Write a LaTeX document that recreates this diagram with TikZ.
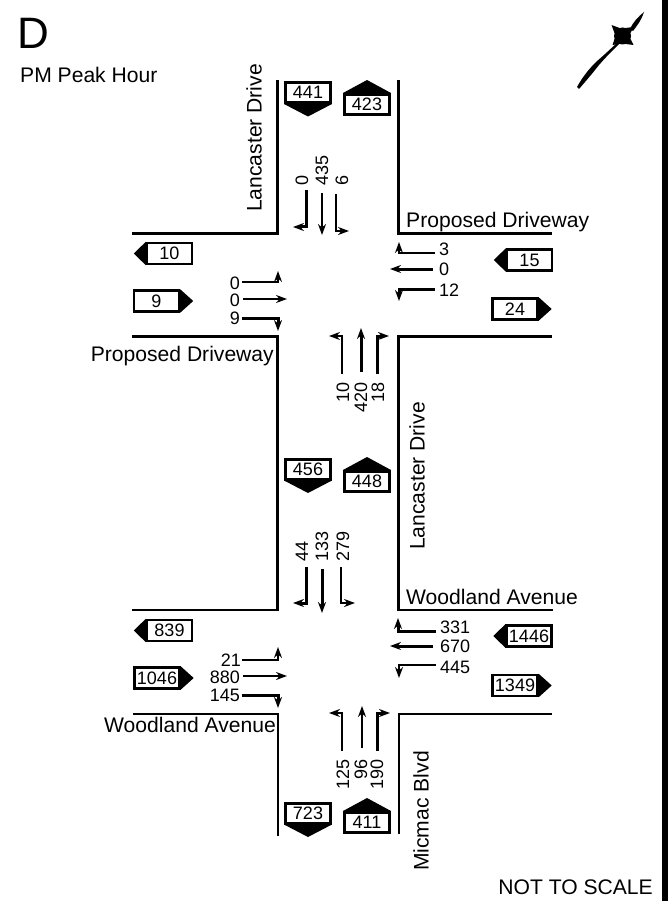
\documentclass[tikz,border=0pt]{standalone}
\usepackage{fontspec}
\setmainfont{Liberation Sans}
\usetikzlibrary{arrows.meta,calc}

\tikzset{
  >={Stealth[length=11pt,width=8pt]},
  road/.style={line width=2.6pt,line join=miter},
  movelight/.style={line width=1.8pt,->},
  moveheavy/.style={line width=3pt,->},
  vol/.style={inner sep=0pt,font=\fontsize{18}{20}\selectfont},
  volup/.style={vol,rotate=90},
  street/.style={inner sep=0pt,font=\fontsize{21.1}{24}\selectfont},
  tagbox/.style={draw,line width=3pt,fill=white,minimum width=45pt,minimum height=20pt,inner sep=0pt,font=\fontsize{18}{20}\selectfont},
  tagside/.style={tagbox,line width=2.4pt,minimum height=21pt}
}

\begin{document}
\begin{tikzpicture}[x=1pt,y=-1pt]
\useasboundingbox (0,0) rectangle (670,901);

% frame bar on the right
\fill (661.5,0) rectangle (668,901);

% headings
\node[inner sep=0pt,anchor=west,font=\fontsize{44}{48}\selectfont] (panel) at (17,33) {D};
\node[street,anchor=west] (peak) at (20,75) {PM Peak Hour};
\node[street,anchor=east] (scale) at (653,887) {NOT TO SCALE};

% north arrow
\coordinate (N) at (622.5,36);
\fill (577,87) .. controls (583,76) and (590,68) .. (596,62) .. controls (604,55) .. (618,42) -- (619,44) .. controls (607,56) .. (599,65) .. controls (592,74) and (585,82) .. (579,89) -- cycle;
\fill (630,29) .. controls (633,22) and (638,17) .. (644,12) .. controls (642,19) and (637,26) .. (633,31) -- cycle;
\fill (N) circle (8.5);
\fill (N) +(-11,-11) -- +(-3,-8) -- +(-8,-3) -- cycle;
\fill (N) +(11,-9) -- +(3,-8) -- +(8,-3) -- cycle;
\fill (N) +(11,9) -- +(3,8) -- +(8,3) -- cycle;
\fill (N) +(-10,9) -- +(-3,8) -- +(-8,3) -- cycle;

% kerbs
\draw[road] (277.7,80) -- (277.7,233.5) -- (132,233.5);
\draw[road] (398.7,80) -- (398.7,233.5) -- (552,233.5);
\draw[road] (132,336.7) -- (277.7,336.7) -- (277.7,610) -- (132,610);
\draw[road] (552,336.7) -- (398.7,336.7) -- (398.7,610) -- (553,610);
\draw[road] (133,714) -- (278,714) -- (278,836);
\draw[road] (552,714) -- (399,714) -- (399,834);

% street names
\node[street,rotate=90,anchor=west] (lancN) at (254,212) {Lancaster Drive};
\node[street,rotate=90,anchor=west] (lancS) at (417,550) {Lancaster Drive};
\node[street,anchor=west] (propE) at (406,222.5) {Proposed Driveway};
\node[street,anchor=east] (propW) at (274,356.5) {Proposed Driveway};
\node[street,anchor=west] (woodE) at (406,597) {Woodland Avenue};
\node[street,anchor=east] (woodW) at (276,725) {Woodland Avenue};
\node[street,rotate=90,anchor=west] (micmac) at (421,871) {Micmac Blvd};

% southbound tags
\foreach \tagval/\x/\y in {441/308/92.5,456/308/469,723/308/813} {
  \node[tagbox] (tag\tagval) at (\x,\y) {\tagval};
  \fill (tag\tagval.south west) -- (tag\tagval.south east) -- ($(tag\tagval.south)+(0,12.5)$) -- cycle;
}
% northbound tags
\foreach \tagval/\x/\y in {423/367/104.5,448/367/481.5,411/367/822.5} {
  \node[tagbox] (tag\tagval) at (\x,\y) {\tagval};
  \fill (tag\tagval.north west) -- (tag\tagval.north east) -- ($(tag\tagval.north)+(0,-13)$) -- cycle;
}
% westbound tags
\foreach \tagval/\x/\y in {10/169.5/253.5,15/529.5/260,839/169.5/630.5,1446/529/636} {
  \node[tagside] (tag\tagval) at (\x,\y) {\tagval};
  \fill (tag\tagval.north west) -- (tag\tagval.south west) -- ($(tag\tagval.west)+(-12,0)$) -- cycle;
}
% eastbound tags
\foreach \tagval/\x/\y in {9/156.5/301,24/515/309,1046/157/678,1349/515/685.5} {
  \node[tagside] (tag\tagval) at (\x,\y) {\tagval};
  \fill (tag\tagval.north east) -- (tag\tagval.south east) -- ($(tag\tagval.east)+(13,0)$) -- cycle;
}

% north leg of upper junction
\node[volup,anchor=west] (ua) at (302,186) {0};
\node[volup,anchor=west] (ub) at (322,186) {435};
\node[volup,anchor=west] (uc) at (342,186) {6};
\draw[moveheavy] (306,190) -- (306,227) -- (293,227);
\draw[movelight] (322,193) -- (322,235);
\draw[movelight] (336,194) -- (336,231) -- (349,231);

% west leg of upper junction
\node[vol,anchor=east] (ud) at (240,283) {0};
\node[vol,anchor=east] (ue) at (240,300) {0};
\node[vol,anchor=east] (uf) at (240,318) {9};
\draw[movelight] (242,282) -- (278,282) -- (278,271);
\draw[movelight] (243,299) -- (287,299);
\draw[moveheavy] (242,318) -- (278,318) -- (278,331);

% east leg of upper junction
\node[vol,anchor=west] (ug) at (439,249) {3};
\node[vol,anchor=west] (uh) at (439,269) {0};
\node[vol,anchor=west] (ui) at (439,290) {12};
\draw[movelight] (435,253) -- (399,253) -- (399,242);
\draw[moveheavy] (433,269) -- (390,269);
\draw[moveheavy] (435,289) -- (399,289) -- (399,301);

% south leg of upper junction
\node[volup,anchor=east] (uj) at (343,382) {10};
\node[volup,anchor=east] (uk) at (361,382) {420};
\node[volup,anchor=east] (ul) at (378,382) {18};
\draw[movelight] (342,374) -- (342,336) -- (329,336);
\draw[moveheavy] (361,372) -- (361,328);
\draw[moveheavy] (377,374) -- (377,336) -- (389,336);

% north leg of lower junction
\node[volup,anchor=west] (la) at (302,562) {44};
\node[volup,anchor=west] (lb) at (322,562) {133};
\node[volup,anchor=west] (lc) at (343,562) {279};
\draw[moveheavy] (306,567) -- (306,603) -- (293,603);
\draw[moveheavy] (322,569) -- (322,613);
\draw[movelight] (341,567) -- (341,603) -- (355,603);

% west leg of lower junction
\node[vol,anchor=east] (ld) at (241,660) {21};
\node[vol,anchor=east] (le) at (240,677) {880};
\node[vol,anchor=east] (lf) at (240,695) {145};
\draw[movelight] (242,660) -- (278,660) -- (278,647);
\draw[movelight] (243,676) -- (287,676);
\draw[moveheavy] (242,695) -- (278,695) -- (278,708);

% east leg of lower junction
\node[vol,anchor=west] (lg) at (440,627) {331};
\node[vol,anchor=west] (lh) at (440,646) {670};
\node[vol,anchor=west] (li) at (440,667) {445};
\draw[moveheavy] (436,631) -- (398,631) -- (398,618);
\draw[moveheavy] (433,646) -- (390,646);
\draw[movelight] (436,665) -- (399,665) -- (399,678);

% south leg of lower junction
\node[volup,anchor=east] (lj) at (343,759) {125};
\node[volup,anchor=east] (lk) at (361,759) {96};
\node[volup,anchor=east] (ll) at (377,759) {190};
\draw[movelight] (342,751) -- (342,713) -- (329,713);
\draw[movelight] (362,748) -- (362,706);
\draw[moveheavy] (377,751) -- (377,713) -- (390,713);
\end{tikzpicture}
\end{document}
